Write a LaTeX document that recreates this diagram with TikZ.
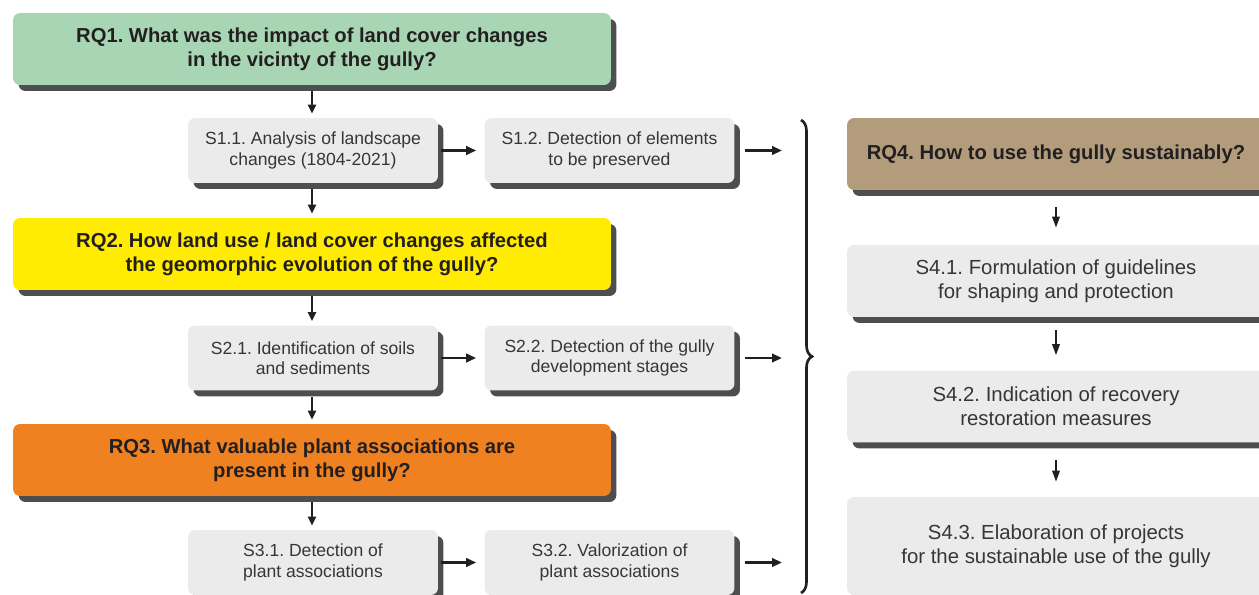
\documentclass[tikz,border=0pt]{standalone}
\usepackage{fontspec}
\setmainfont{Liberation Sans}
\usepackage{xcolor}
\usepackage{tikz}
\usetikzlibrary{arrows.meta, positioning, shadows, decorations.pathreplacing}
\definecolor{rqgreen}{RGB}{168,214,181}
\definecolor{rqyellow}{RGB}{255,236,0}
\definecolor{rqorange}{RGB}{239,129,32}
\definecolor{rqbrown}{RGB}{178,156,124}
\definecolor{stepgray}{RGB}{235,235,235}
\definecolor{shadowgray}{RGB}{78,78,78}
\definecolor{inkdark}{RGB}{35,31,32}
\frenchspacing
\tikzset{
  question/.style={rectangle, fill=#1, minimum width=11.96cm, minimum height=1.44cm,
    align=center, text=inkdark, font=\fontsize{11.5}{13.5}\selectfont\bfseries,
    rounded corners=4pt, inner sep=0pt,
    drop shadow={shadow xshift=0.11cm, shadow yshift=-0.12cm, fill=shadowgray, opacity=1}},
  stepbox/.style={rectangle, fill=stepgray, minimum width=5cm, minimum height=1.3cm,
    align=center, text=inkdark!90, font=\fontsize{10}{11.5}\selectfont,
    rounded corners=4pt, inner sep=0pt,
    drop shadow={shadow xshift=0.11cm, shadow yshift=-0.12cm, fill=shadowgray, opacity=1}},
  harrow/.style={-{Triangle[length=0.2cm, width=0.17cm]}, line width=1.4pt, color=inkdark},
  varrow/.style={-{Triangle[length=0.18cm, width=0.16cm]}, line width=1.2pt, color=inkdark}
}
\begin{document}
\begin{tikzpicture}[x=0.02cm, y=-0.02cm,
  goalbox/.style={question=#1, minimum width=8.36cm},
  planbox/.style={stepbox, minimum width=8.36cm, minimum height=1.44cm,
    font=\fontsize{11.6}{13.5}\selectfont},
  sarrow/.style={-{Triangle[length=0.22cm, width=0.15cm]}, line width=1pt, color=inkdark},
  bracestyle/.style={decorate, decoration={brace, amplitude=0.22cm}, line width=1.5pt, color=inkdark}]

  \useasboundingbox (0,0) rectangle (1259,595);

  % Research questions
  \node[question=rqgreen] (rq1) at (312,49) {RQ1. What was the impact of land cover changes\\in the vicinty of the gully?};
  \node[question=rqyellow] (rq2) at (312,254) {RQ2. How land use / land cover changes affected\\the geomorphic evolution of the gully?};
  \node[question=rqorange] (rq3) at (312,460) {RQ3. What valuable plant associations are\\present in the gully?};

  % Steps
  \node[stepbox] (s11) at (313,150.5) {S1.1. Analysis of landscape\\changes (1804-2021)};
  \node[stepbox] (s12) at (609.5,150.5) {S1.2. Detection of elements\\to be preserved};
  \node[stepbox] (s21) at (313,358) {S2.1. Identification of soils\\and sediments};
  \node[stepbox] (s22) at (609.5,358) {S2.2. Detection of the gully\\development stages};
  \node[stepbox] (s31) at (313,562.5) {S3.1. Detection of\\plant associations};
  \node[stepbox] (s32) at (609.5,562.5) {S3.2. Valorization of\\plant associations};

  % Synthesis
  \node[goalbox=rqbrown] (rq4) at (1056,154) {RQ4. How to use the gully sustainably?};
  \node[planbox] (s41) at (1056,281) {S4.1. Formulation of guidelines\\for shaping and protection};
  \node[planbox] (s42) at (1056,406.5) {S4.2. Indication of recovery\\restoration measures};
  \node[planbox, minimum height=1.96cm] (s43) at (1056,546) {S4.3. Elaboration of projects\\for the sustainable use of the gully};

  % Brace
  \coordinate (bracetop) at (801,120);
  \coordinate (bracebot) at (801,593);
  \coordinate (bx) at (782,0);
  \draw[bracestyle] (bracetop) -- (bracebot);

  % Connections
  \draw[varrow, shorten <=0.12cm, shorten >=0.08cm] (rq1.south) -- (rq1.south |- s11.north);
  \draw[varrow, shorten <=0.12cm, shorten >=0.08cm] (rq1.south |- s11.south) -- (rq2.north);
  \draw[varrow, shorten <=0.12cm, shorten >=0.08cm] (rq2.south) -- (rq2.south |- s21.north);
  \draw[varrow, shorten <=0.12cm, shorten >=0.08cm] (rq2.south |- s21.south) -- (rq3.north);
  \draw[varrow, shorten <=0.12cm, shorten >=0.08cm] (rq3.south) -- (rq3.south |- s31.north);

  \draw[harrow, shorten <=0.06cm, shorten >=0.16cm] (s11) -- (s12);
  \draw[harrow, shorten <=0.06cm, shorten >=0.16cm] (s21) -- (s22);
  \draw[harrow, shorten <=0.06cm, shorten >=0.16cm] (s31) -- (s32);
  \draw[harrow, shorten <=0.2cm] (s12.east) -- (s12.east -| bx);
  \draw[harrow, shorten <=0.2cm] (s22.east) -- (s22.east -| bx);
  \draw[harrow, shorten <=0.2cm] (s32.east) -- (s32.east -| bx);

  \draw[sarrow, shorten <=0.34cm, shorten >=0.34cm] (rq4) -- (s41);
  \draw[sarrow, shorten <=0.26cm, shorten >=0.3cm] (s41) -- (s42);
  \draw[sarrow, shorten <=0.34cm, shorten >=0.3cm] (s42) -- (s43);

\end{tikzpicture}
\end{document}
